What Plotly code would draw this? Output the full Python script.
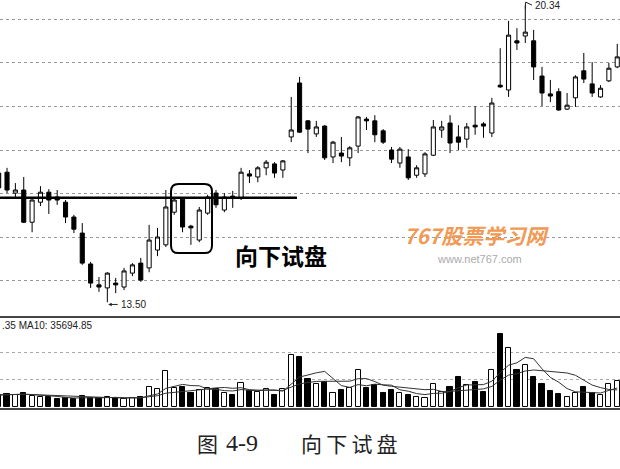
import plotly.graph_objects as go
import pandas as pd

# candle index (k = -1 is the partially visible first candle)
idx = list(range(-1, 74))

opens = [16.47, 16.49, 16.01, 16.08, 15.34, 15.80, 16.03, 15.92, 15.80, 15.46,
         15.09, 14.38, 13.90, 13.83, 13.94, 13.85, 14.17, 14.40, 14.29, 14.70,
         14.82, 15.57, 15.87, 15.25, 14.93, 15.55, 16.01, 15.62, 15.94, 15.90,
         16.45, 16.38, 16.59, 16.68, 16.54, 17.30, 18.54, 17.67, 17.37, 17.55,
         16.84, 16.93, 16.82, 17.09, 17.71, 17.67, 17.44, 17.00, 16.70, 16.84,
         16.42, 16.45, 16.88, 17.46, 17.62, 17.30, 17.25, 17.57, 17.60, 17.39,
         18.49, 18.38, 19.51, 19.62, 19.51, 18.70, 18.29, 18.34, 17.94, 18.20,
         18.82, 18.52, 18.22, 18.59, 18.91]
closes = [16.13, 16.08, 16.08, 15.34, 15.85, 16.03, 15.85, 15.85, 15.46, 15.18,
          14.40, 13.94, 13.85, 14.17, 13.90, 14.22, 14.36, 14.01, 14.93, 15.00,
          15.69, 15.85, 15.23, 15.21, 15.62, 15.92, 15.74, 15.92, 15.90, 16.49,
          16.40, 16.59, 16.72, 16.47, 16.75, 17.46, 17.41, 17.48, 17.53, 16.82,
          17.18, 16.86, 17.05, 17.76, 17.67, 17.35, 17.18, 16.79, 17.02, 16.36,
          16.59, 16.91, 17.53, 17.53, 17.16, 17.18, 17.53, 17.53, 17.55, 18.08,
          18.45, 19.64, 19.46, 19.71, 18.91, 18.31, 18.24, 17.92, 18.03, 18.68,
          18.63, 18.31, 18.42, 18.88, 19.14]
highs = [16.59, 16.59, 16.24, 16.38, 15.87, 16.17, 16.10, 16.08, 15.85, 15.51,
         15.32, 14.43, 14.08, 14.19, 14.06, 14.29, 14.40, 14.52, 15.28, 15.21,
         16.08, 15.92, 15.92, 15.28, 15.69, 15.97, 16.08, 16.01, 16.06, 16.59,
         16.54, 16.63, 16.77, 16.72, 16.77, 18.22, 18.68, 17.69, 17.67, 17.57,
         17.21, 17.30, 17.09, 17.78, 17.76, 17.80, 17.48, 17.07, 17.07, 17.02,
         16.65, 16.95, 17.69, 17.67, 17.80, 17.57, 17.62, 18.01, 17.64, 18.20,
         19.34, 19.97, 19.80, 20.34, 19.76, 18.91, 18.61, 18.42, 18.31, 18.72,
         19.23, 19.02, 18.49, 19.00, 19.44]
lows = [16.03, 16.01, 15.90, 15.32, 15.11, 15.71, 15.53, 15.74, 15.32, 15.09,
        14.36, 13.83, 13.74, 13.50, 13.71, 13.78, 14.10, 13.97, 14.19, 14.56,
        14.77, 15.51, 15.11, 14.82, 14.88, 15.51, 15.67, 15.57, 15.67, 15.85,
        16.24, 16.26, 16.42, 16.36, 16.36, 17.18, 17.39, 16.93, 17.30, 16.77,
        16.70, 16.72, 16.63, 16.93, 17.46, 17.18, 17.14, 16.70, 16.59, 16.31,
        16.36, 16.38, 16.86, 17.28, 16.93, 17.00, 17.05, 17.35, 17.28, 17.30,
        18.43, 18.22, 19.30, 19.46, 18.61, 18.01, 18.10, 17.90, 17.92, 17.99,
        18.54, 18.22, 18.20, 18.56, 18.88]
volumes = [22200, 24050, 22200, 25900, 20350, 18500, 18500, 14800, 16650, 14800,
           20350, 16650, 16650, 18500, 16650, 14800, 16650, 18500, 37000, 33300,
           66600, 35150, 37000, 25900, 31450, 35150, 33300, 25900, 22200, 44400,
           29600, 27750, 33300, 22200, 33300, 96200, 92500, 51800, 42550, 46250,
           25900, 31450, 35150, 68450, 35150, 40700, 25900, 31450, 25900, 22200,
           18500, 16650, 42550, 27750, 37000, 55500, 40700, 46250, 27750, 68450,
           135050, 109150, 68450, 77700, 55500, 42550, 29600, 24050, 18500, 25900,
           37000, 25900, 22200, 42550, 48100]

price_grid = [14, 15, 16, 17, 18, 19, 20]
vol_grid = [50000, 100000]
support_level = 15.90
high_label = "20.34"
low_label = "13.50"
vol_label = ".35 MA10: 35694.85"

vol_colors = ["white" if c >= o else "black" for o, c in zip(opens, closes)]
vs = pd.Series(volumes)
ma5 = vs.rolling(5, min_periods=1).mean()
ma10 = vs.rolling(10, min_periods=1).mean()

fig = go.Figure()
fig.add_trace(go.Candlestick(
    x=idx, open=opens, high=highs, low=lows, close=closes,
    increasing=dict(line=dict(color="black", width=1), fillcolor="white"),
    decreasing=dict(line=dict(color="black", width=1), fillcolor="black"),
    whiskerwidth=0, showlegend=False, xaxis="x", yaxis="y"))
fig.add_trace(go.Bar(
    x=idx, y=volumes, width=0.62,
    marker=dict(color=vol_colors, line=dict(color="black", width=1)),
    showlegend=False, xaxis="x2", yaxis="y2"))
fig.add_trace(go.Scatter(x=idx, y=ma5, mode="lines", line=dict(color="#333", width=1),
                         showlegend=False, xaxis="x2", yaxis="y2"))
fig.add_trace(go.Scatter(x=idx, y=ma10, mode="lines", line=dict(color="#333", width=1),
                         showlegend=False, xaxis="x2", yaxis="y2"))

xr = [-0.84, 73.33]
fig.update_layout(
    width=620, height=469, margin=dict(l=0, r=0, t=0, b=0),
    paper_bgcolor="white", plot_bgcolor="white",
    xaxis=dict(range=xr, domain=[0, 1], anchor="y", showgrid=False, showticklabels=False,
               zeroline=False, rangeslider=dict(visible=False), fixedrange=True),
    xaxis2=dict(range=xr, domain=[0, 1], anchor="y2", showgrid=False, showticklabels=False,
                zeroline=False),
    yaxis=dict(range=[13.184, 20.448], domain=[0.3262, 1], showticklabels=False,
               tickvals=price_grid, showgrid=True, gridcolor="#999", griddash="dot",
               gridwidth=1, zeroline=False),
    yaxis2=dict(range=[-5550, 164650], domain=[0.1258, 0.3220], showticklabels=False,
                tickvals=vol_grid, showgrid=True, gridcolor="#aaa", griddash="dot",
                gridwidth=1, zeroline=False),
    bargap=0,
)

# support line
fig.add_shape(type="line", xref="paper", yref="y", x0=0, x1=0.479,
              y0=support_level, y1=support_level, line=dict(color="black", width=2.5))

# rounded rectangle around the test candles
x0, x1, y0, y1 = 19.62, 24.52, 14.63, 16.22
rx, ry = 0.9, 0.17
path = (f"M {x0+rx},{y1} L {x1-rx},{y1} Q {x1},{y1} {x1},{y1-ry} "
        f"L {x1},{y0+ry} Q {x1},{y0} {x1-rx},{y0} L {x0+rx},{y0} "
        f"Q {x0},{y0} {x0},{y0+ry} L {x0},{y1-ry} Q {x0},{y1} {x0+rx},{y1} Z")
fig.add_shape(type="path", xref="x", yref="y", path=path,
              line=dict(color="black", width=2))

# volume panel borders
for yp in [1 - 317 / 469, 1 - 409 / 469]:
    fig.add_shape(type="line", xref="paper", yref="paper", x0=0, x1=1, y0=yp, y1=yp,
                  line=dict(color="#444", width=2))

# high label leader
fig.add_shape(type="path", xref="x", yref="y",
              path="M 62,20.25 L 62.05,20.40 L 62.8,20.33",
              line=dict(color="#222", width=1))

small = dict(family="Liberation Sans, Arial", size=10, color="#222")
fig.add_annotation(x=62.95, y=20.32, xref="x", yref="y", text=high_label, showarrow=False,
                   xanchor="left", yanchor="middle", font=small)
# low label with left arrow
fig.add_annotation(x=12.1, y=13.45, xref="x", yref="y", text="", showarrow=True,
                   ax=11, ay=0, arrowhead=2, arrowsize=0.7, arrowwidth=1, arrowcolor="#222")
fig.add_annotation(x=13.35, y=13.45, xref="x", yref="y", text=low_label,
                   showarrow=False, xanchor="left", yanchor="middle", font=small)
fig.add_annotation(x=0.0, y=1 - 325 / 469, xref="paper", yref="paper", text=vol_label,
                   showarrow=False, xanchor="left", yanchor="middle",
                   font=dict(family="Liberation Sans, Arial", size=10, color="#222"))

fig.add_annotation(x=281 / 620, y=1 - 255 / 469, xref="paper", yref="paper",
                   text="<b>向下试盘</b>", showarrow=False, xanchor="center", yanchor="middle",
                   font=dict(family="Noto Sans CJK SC", size=23, color="black"))

fig.add_annotation(x=476 / 620, y=1 - 235 / 469, xref="paper", yref="paper",
                   text="<b><i>767股票学习网</i></b>", showarrow=False,
                   xanchor="center", yanchor="middle",
                   font=dict(family="Noto Sans CJK SC", size=21, color="#f09a55"))
fig.add_annotation(x=479 / 620, y=1 - 258.5 / 469, xref="paper", yref="paper",
                   text="www.net767.com", showarrow=False, xanchor="center", yanchor="middle",
                   font=dict(family="Liberation Sans, Arial", size=11, color="#aaa"))

# caption
fig.add_annotation(x=207 / 620, y=1 - 443 / 469, xref="paper", yref="paper",
                   text="图", showarrow=False, xanchor="center", yanchor="middle",
                   font=dict(family="Noto Sans CJK SC", size=21, color="#222"))
fig.add_annotation(x=242 / 620, y=1 - 443 / 469, xref="paper", yref="paper",
                   text="4-9", showarrow=False, xanchor="center", yanchor="middle",
                   font=dict(family="Liberation Serif, serif", size=24, color="#222"))
fig.add_annotation(x=349 / 620, y=1 - 443 / 469, xref="paper", yref="paper",
                   text="向\u2009下\u2009试\u2009盘", showarrow=False, xanchor="center",
                   yanchor="middle",
                   font=dict(family="Noto Sans CJK SC", size=21, color="#222"))

fig.write_html("out.html", config={"displayModeBar": False},
               post_script="document.body.style.margin='0';document.body.style.overflow='hidden';")
